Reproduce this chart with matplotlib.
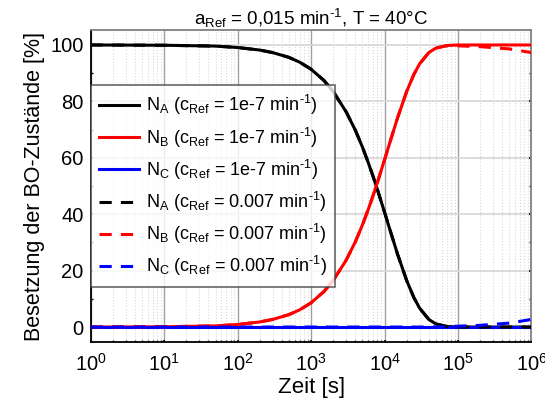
import numpy as np
import matplotlib.pyplot as plt
from matplotlib.ticker import LogLocator, MultipleLocator, NullFormatter

plt.rcParams['font.family'] = ['Liberation Sans', 'DejaVu Sans']
plt.rcParams['mathtext.fontset'] = 'custom'
plt.rcParams['mathtext.rm'] = 'Liberation Sans'
plt.rcParams['mathtext.it'] = 'Liberation Sans:italic'
plt.rcParams['mathtext.bf'] = 'Liberation Sans:bold'

t = [1, 10, 50, 100, 200, 300, 500, 700, 1000, 1500, 2000, 3000, 4000, 5000,
     6000, 7000, 8000, 10000, 12000, 15000, 20000, 25000, 30000, 40000,
     50000, 70000, 100000, 200000, 500000, 1000000]

# c_Ref = 1e-7 min^-1
N_A_1 = [100.0, 99.9, 99.6, 99.1, 98.2, 97.3, 95.6, 93.9, 91.4, 87.4, 83.5,
         76.3, 69.8, 63.8, 58.3, 53.3, 48.7, 40.7, 34.0, 25.9, 16.5, 10.5,
         6.7, 2.7, 1.1, 0.2, 0.0, 0.0, 0.0, 0.0]
N_B_1 = [0.0, 0.1, 0.4, 0.9, 1.8, 2.7, 4.4, 6.1, 8.6, 12.6, 16.5,
         23.7, 30.2, 36.2, 41.7, 46.7, 51.3, 59.3, 66.0, 74.1, 83.5, 89.5,
         93.3, 97.3, 98.9, 99.8, 100.0, 100.0, 100.0, 100.0]
N_C_1 = [0.0] * len(t)

# c_Ref = 0.007 min^-1
N_A_2 = list(N_A_1)
N_B_2 = [0.0, 0.1, 0.4, 0.9, 1.8, 2.7, 4.4, 6.1, 8.6, 12.6, 16.5,
         23.7, 30.2, 36.2, 41.7, 46.7, 51.3, 59.3, 66.0, 74.1, 83.5, 89.5,
         93.3, 97.3, 98.9, 99.7, 99.7, 99.4, 98.6, 97.3]
N_C_2 = [0.0, 0.0, 0.0, 0.0, 0.0, 0.0, 0.0, 0.0, 0.0, 0.0, 0.0,
         0.0, 0.0, 0.0, 0.0, 0.0, 0.0, 0.0, 0.0, 0.0, 0.0, 0.0,
         0.0, 0.0, 0.05, 0.1, 0.3, 0.6, 1.4, 2.7]

fig = plt.figure(figsize=(5.45, 4.03), dpi=100)
ax = fig.add_axes([0.1664, 0.1521, 0.8088, 0.7727])

lab1 = r' (c$_\mathrm{Ref}$ = 1e-7 min$^{\text{-}1}$)'
lab2 = r' (c$_\mathrm{Ref}$ = 0.007 min$^{\text{-}1}$)'
lw = 2.2
ax.plot(t, N_A_1, color='black', lw=lw, label=r'N$_\mathrm{A}$' + lab1, zorder=3)
ax.plot(t, N_B_1, color='red', lw=lw, label=r'N$_\mathrm{B}$' + lab1, zorder=3)
ax.plot(t, N_C_1, color='blue', lw=lw, label=r'N$_\mathrm{C}$' + lab1, zorder=3)
ax.plot(t, N_A_2, color='black', lw=lw, ls=(0, (4, 3)), label=r'N$_\mathrm{A}$' + lab2, zorder=4)
ax.plot(t, N_B_2, color='red', lw=lw, ls=(0, (4, 3)), label=r'N$_\mathrm{B}$' + lab2, zorder=4)
ax.plot(t, N_C_2, color='blue', lw=lw, ls=(0, (4, 3)), label=r'N$_\mathrm{C}$' + lab2, zorder=4)

ax.set_xscale('log')
ax.set_xlim(1, 1e6)
ax.set_ylim(-5.2, 105.2)
ax.xaxis.set_major_locator(LogLocator(base=10, numticks=10))
ax.xaxis.set_minor_locator(LogLocator(base=10, subs=np.arange(2, 10), numticks=100))
ax.xaxis.set_minor_formatter(NullFormatter())
ax.yaxis.set_major_locator(MultipleLocator(20))
ax.yaxis.set_minor_locator(MultipleLocator(10))

ax.grid(True, which='major', axis='x', color='#a0a0a0', lw=1.0, zorder=0)
ax.grid(True, which='minor', axis='x', color='#d8d8d8', lw=0.8, ls=':', zorder=0)
ax.grid(True, which='major', axis='y', color='#d8d8d8', lw=1.3, zorder=0)

ax.tick_params(axis='both', which='major', direction='out', length=5, width=1.2,
               labelsize=14.5, colors='black', pad=5)
ax.tick_params(axis='x', which='major', pad=8)
ax.tick_params(axis='both', which='minor', direction='out', length=3, width=1.0)
ax.tick_params(right=True, which='both', direction='in', length=1.5)
for s in ['left', 'bottom']:
    ax.spines[s].set_linewidth(1.3)
for s in ['top', 'right']:
    ax.spines[s].set_color('#808080')
    ax.spines[s].set_linewidth(1.3)

ax.set_xlabel('Zeit [s]', fontsize=16, labelpad=2)
ax.set_ylabel('Besetzung der BO-Zustände [%]', fontsize=15.5, labelpad=4)
ax.set_title(r'a$_\mathrm{Ref}$ = 0,015 min$^{\text{-}1}$, T = 40°C', fontsize=13.5, pad=4)

leg = ax.legend(loc='upper left', bbox_to_anchor=(0.0, 0.824), fontsize=13,
                frameon=True, fancybox=False, shadow=False, borderaxespad=0,
                handlelength=2.2, handletextpad=0.4, labelspacing=0.45,
                borderpad=0.45)
leg.get_frame().set_edgecolor('#404040')
leg.get_frame().set_linewidth(1.2)
leg.set_zorder(5)

fig.savefig('out.png', dpi=100)
